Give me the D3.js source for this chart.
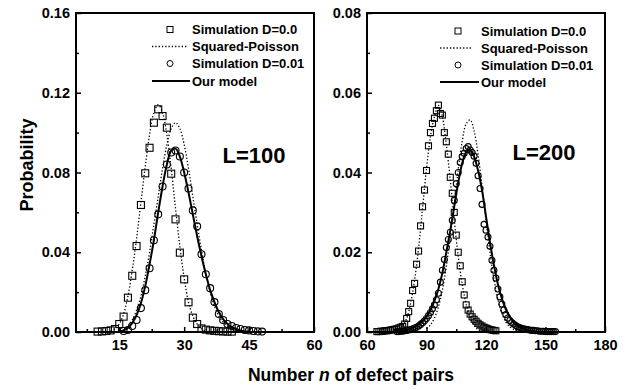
<!DOCTYPE html>
<html>
<head>
<meta charset="utf-8">
<script src="https://cdn.jsdelivr.net/npm/d3@7"></script>
<style>
    body { margin: 0; background: #fff; }
    svg { display: block; font-family: "Liberation Sans", Arial, sans-serif; font-weight: bold; }
</style>
</head>
<body>
<svg id="chart" width="629" height="390"></svg>
<script>
// ---- data: [n, probability] ----
// L = 100
const simD0_100 = [[10,0.0002],[11,0.0003],[12,0.0005],[13,0.0008],[14,0.0015],[15,0.004],[16,0.0077],[17,0.0172],[18,0.0282],[19,0.0431],[20,0.0637],[21,0.0796],[22,0.0924],[23,0.105],[24,0.1117],[25,0.1083],[26,0.1025],[27,0.0794],[28,0.0565],[29,0.0398],[30,0.0264],[31,0.0149],[32,0.0072],[33,0.004],[34,0.0018],[35,0.0012],[36,0.0008],[37,0.0006],[38,0.0004],[39,0.0003],[40,0.0002],[41,0.0002]];
const poissonD0_100 = [[13,0.0005],[14,0.0015],[15,0.004],[16,0.009],[17,0.018],[18,0.031],[19,0.047],[20,0.065],[21,0.083],[22,0.099],[23,0.110],[24,0.114],[25,0.110],[26,0.099],[27,0.082],[28,0.062],[29,0.043],[30,0.027],[31,0.015],[32,0.008],[33,0.004],[34,0.0015],[35,0.0005]];
const simD1_100 = [[16,0.0005],[17,0.001],[18,0.003],[19,0.006],[20,0.012],[21,0.021],[22,0.032],[23,0.046],[24,0.059],[25,0.073],[26,0.084],[27,0.090],[28,0.091],[29,0.088],[30,0.080],[31,0.072],[32,0.061],[33,0.053],[34,0.039],[35,0.029],[36,0.022],[37,0.015],[38,0.009],[39,0.006],[40,0.004],[41,0.003],[42,0.002],[43,0.0015],[44,0.001],[45,0.0008],[46,0.0005],[47,0.0003],[48,0.0002]];
const poissonD1_100 = [[16,0.001],[17,0.003],[18,0.006],[19,0.011],[20,0.018],[21,0.028],[22,0.040],[23,0.054],[24,0.068],[25,0.082],[26,0.094],[27,0.102],[28,0.105],[29,0.102],[30,0.094],[31,0.082],[32,0.068],[33,0.054],[34,0.041],[35,0.029],[36,0.020],[37,0.013],[38,0.008],[39,0.005],[40,0.003],[41,0.0015],[42,0.0008],[43,0.0003]];
const model_100 = [[15,0.0002],[16,0.0008],[17,0.002],[18,0.0045],[19,0.0085],[20,0.0145],[21,0.023],[22,0.034],[23,0.046],[24,0.060],[25,0.073],[26,0.084],[27,0.091],[28,0.092],[29,0.088],[30,0.080],[31,0.070],[32,0.059],[33,0.048],[34,0.038],[35,0.029],[36,0.021],[37,0.015],[38,0.010],[39,0.0065],[40,0.004],[41,0.0025],[42,0.0015],[43,0.0008],[44,0.0004],[45,0.0002]];

// L = 200
const simD0_200 = [[65,0.0001],[66,0.0001],[67,0.0002],[68,0.0002],[69,0.0003],[70,0.0003],[71,0.0004],[72,0.0005],[73,0.0006],[74,0.0007],[75,0.0008],[76,0.0010],[77,0.0012],[78,0.0014],[79,0.0020],[80,0.0034],[81,0.0051],[82,0.0072],[83,0.0104],[84,0.0122],[85,0.0170],[86,0.0203],[87,0.0266],[88,0.0314],[89,0.0356],[90,0.0405],[91,0.0467],[92,0.0500],[93,0.0523],[94,0.0536],[95,0.0555],[96,0.0569],[97,0.0548],[98,0.0544],[99,0.0500],[100,0.0477],[101,0.0446],[102,0.0388],[103,0.0348],[104,0.0300],[105,0.0243],[106,0.0200],[107,0.0166],[108,0.0126],[109,0.0093],[110,0.0068],[111,0.0055],[112,0.0045],[113,0.0038],[114,0.0032],[115,0.0027],[116,0.0022],[117,0.0018],[118,0.0015],[119,0.0012],[120,0.0010],[121,0.0008],[122,0.0006],[123,0.0005],[124,0.0004],[125,0.0003]];
const poissonD0_200 = [[72,0.0001],[74,0.0003],[76,0.0007],[78,0.0015],[80,0.0034],[82,0.0072],[84,0.013],[86,0.021],[88,0.031],[90,0.041],[92,0.049],[94,0.054],[96,0.0568],[98,0.054],[100,0.047],[102,0.038],[104,0.028],[106,0.019],[108,0.012],[110,0.007],[112,0.0036],[114,0.0016],[116,0.0006],[118,0.0002],[120,0.0001]];
const simD1_200 = [[75,0.0001],[76,0.0001],[77,0.0002],[78,0.0002],[79,0.0003],[80,0.0004],[81,0.0005],[82,0.0006],[83,0.0008],[84,0.0010],[85,0.0012],[86,0.0015],[87,0.0019],[88,0.0023],[89,0.0028],[90,0.0034],[91,0.0041],[92,0.0049],[93,0.0058],[94,0.0068],[95,0.0081],[96,0.0097],[97,0.0125],[98,0.0155],[99,0.0182],[100,0.0212],[101,0.0232],[102,0.0250],[103,0.0280],[104,0.0330],[105,0.0372],[106,0.0400],[107,0.0425],[108,0.0440],[109,0.0448],[110,0.0460],[111,0.0465],[112,0.0456],[113,0.0450],[114,0.0441],[115,0.0423],[116,0.0392],[117,0.0360],[118,0.0320],[119,0.0270],[120,0.0255],[121,0.0238],[122,0.0215],[123,0.0180],[124,0.0155],[125,0.0135],[126,0.0108],[127,0.0088],[128,0.0070],[129,0.0055],[130,0.0044],[131,0.0035],[132,0.0029],[133,0.0024],[134,0.0020],[135,0.0016],[136,0.0013],[137,0.0011],[138,0.0009],[139,0.0008],[140,0.0007],[141,0.0006],[142,0.0005],[143,0.0004],[144,0.0004],[145,0.0003],[146,0.0003],[147,0.0002],[148,0.0002],[149,0.0002],[150,0.0001],[151,0.0001],[152,0.0001],[153,0.0001],[154,0.0001],[155,0.0001]];
const poissonD1_200 = [[90,0.0009],[92,0.0018],[94,0.0035],[96,0.0063],[98,0.0105],[100,0.0165],[102,0.0239],[104,0.0323],[106,0.0407],[108,0.0478],[110,0.0522],[112,0.0532],[114,0.0504],[116,0.0445],[118,0.0366],[120,0.0280],[122,0.0200],[124,0.0133],[126,0.0082],[128,0.0047],[130,0.0025],[132,0.0013],[134,0.0006]];
const model_200 = [[78,0.0003],[82,0.0008],[86,0.0019],[88,0.0027],[90,0.0038],[92,0.0055],[94,0.0078],[96,0.0108],[98,0.0148],[100,0.0200],[102,0.0255],[104,0.0315],[106,0.0375],[108,0.0423],[110,0.0451],[112,0.0456],[114,0.0440],[116,0.0405],[118,0.0355],[120,0.0290],[122,0.0225],[124,0.0168],[126,0.0120],[128,0.0084],[130,0.0057],[132,0.0038],[134,0.0025],[136,0.0016],[138,0.0010],[142,0.0004],[148,0.0001]];

// axis ticks
const xTicks100 = [15, 30, 45, 60];
const xMinor100 = [7.5, 22.5, 37.5, 52.5];
const yTicks100 = [0, 0.04, 0.08, 0.12, 0.16];
const yMinor100 = [0.02, 0.06, 0.10, 0.14];
const xTicks200 = [60, 90, 120, 150, 180];
const xMinor200 = [75, 105, 135, 165];
const yTicks200 = [0, 0.02, 0.04, 0.06, 0.08];
const yMinor200 = [0.01, 0.03, 0.05, 0.07];

const legendLabels = ['Simulation D=0.0', 'Squared-Poisson', 'Simulation D=0.01', 'Our model'];

const svg = d3.select('#chart');

function drawPanel(cfg) {
    const x = d3.scaleLinear().domain(cfg.xDomain).range([cfg.left, cfg.right]);
    const y = d3.scaleLinear().domain(cfg.yDomain).range([cfg.bottom, cfg.top]);
    const g = svg.append('g');

    // axes, ticks pointing inward
    const xAxis = g.append('g')
        .attr('transform', `translate(0,${cfg.bottom})`)
        .call(d3.axisBottom(x).tickValues(cfg.xTicks).tickSizeInner(-5).tickSizeOuter(0).tickPadding(8).tickFormat(d3.format('d')));
    g.append('g')
        .attr('transform', `translate(0,${cfg.bottom})`)
        .call(d3.axisBottom(x).tickValues(cfg.xMinor).tickSizeInner(-3).tickSizeOuter(0).tickFormat(''));
    const yAxis = g.append('g')
        .attr('transform', `translate(${cfg.left},0)`)
        .call(d3.axisLeft(y).tickValues(cfg.yTicks).tickSizeInner(-5).tickSizeOuter(0).tickPadding(6).tickFormat(d3.format('.2f')));
    g.append('g')
        .attr('transform', `translate(${cfg.left},0)`)
        .call(d3.axisLeft(y).tickValues(cfg.yMinor).tickSizeInner(-3).tickSizeOuter(0).tickFormat(''));

    g.selectAll('.domain').remove();
    g.selectAll('.tick line').attr('stroke', '#000').attr('stroke-width', 1.5);
    g.selectAll('.tick text')
        .attr('fill', '#000')
        .style('font-size', '14.5px')
        .style('font-family', '"Liberation Sans", Arial, sans-serif')
        .style('font-weight', 'bold');

    // frame
    g.append('rect')
        .attr('x', cfg.left).attr('y', cfg.top)
        .attr('width', cfg.right - cfg.left).attr('height', cfg.bottom - cfg.top)
        .attr('fill', 'none').attr('stroke', '#000').attr('stroke-width', 2);

    const line = d3.line()
        .x(d => x(d[0]))
        .y(d => y(Math.max(0, d[1])))
        .curve(d3.curveCatmullRom.alpha(0.5));

    const plot = g.append('g');

    // squares (D=0.0)
    plot.selectAll('.sq')
        .data(cfg.squares)
        .enter()
        .append('rect')
        .attr('x', d => x(d[0]) - cfg.mk / 2)
        .attr('y', d => y(d[1]) - cfg.mk / 2)
        .attr('width', cfg.mk).attr('height', cfg.mk)
        .attr('fill', 'none').attr('stroke', '#000').attr('stroke-width', 1.1);

    // squared-Poisson dotted curves
    [cfg.poisson0, cfg.poisson1].forEach(s => {
        plot.append('path')
            .attr('d', line(s))
            .attr('fill', 'none').attr('stroke', '#000')
            .attr('stroke-width', 1.3).attr('stroke-dasharray', '1.3,2');
    });

    // circles (D=0.01)
    plot.selectAll('.ci')
        .data(cfg.circles)
        .enter()
        .append('circle')
        .attr('cx', d => x(d[0]))
        .attr('cy', d => y(d[1]))
        .attr('r', cfg.mk / 2)
        .attr('fill', 'none').attr('stroke', '#000').attr('stroke-width', 1.1);

    // model
    plot.append('path')
        .attr('d', line(cfg.model))
        .attr('fill', 'none').attr('stroke', '#000').attr('stroke-width', 2);

    // legend
    const lg = cfg.legend;
    const rows = lg.rows;
    g.append('rect')
        .attr('x', lg.symX - 3).attr('y', rows[0] - 3)
        .attr('width', 6).attr('height', 6)
        .attr('fill', 'none').attr('stroke', '#000').attr('stroke-width', 1);
    g.append('line')
        .attr('x1', lg.x1).attr('x2', lg.x2).attr('y1', rows[1]).attr('y2', rows[1])
        .attr('stroke', '#000').attr('stroke-width', 1.3).attr('stroke-dasharray', '1.3,2');
    g.append('circle')
        .attr('cx', lg.symX).attr('cy', rows[2]).attr('r', 3)
        .attr('fill', 'none').attr('stroke', '#000').attr('stroke-width', 1);
    g.append('line')
        .attr('x1', lg.x1).attr('x2', lg.x2s).attr('y1', rows[3]).attr('y2', rows[3])
        .attr('stroke', '#000').attr('stroke-width', 2);
    g.selectAll('.lgtext')
        .data(legendLabels)
        .enter()
        .append('text')
        .attr('x', lg.textX)
        .attr('y', (d, i) => rows[i])
        .attr('dy', '0.36em')
        .style('font-size', '13px')
        .text(d => d);

    // panel label
    g.append('text')
        .attr('x', cfg.labelX).attr('y', cfg.labelY)
        .attr('text-anchor', 'middle')
        .style('font-size', '22px')
        .text(cfg.label);
}

drawPanel({
    left: 76, right: 314, top: 13, bottom: 332,
    xDomain: [5, 60], yDomain: [0, 0.16],
    xTicks: xTicks100, xMinor: xMinor100, yTicks: yTicks100, yMinor: yMinor100,
    squares: simD0_100, poisson0: poissonD0_100, circles: simD1_100, poisson1: poissonD1_100, model: model_100,
    mk: 7,
    legend: { symX: 170, x1: 152, x2: 187, x2s: 190, textX: 192, rows: [29.5, 46.5, 63.5, 81] },
    label: 'L=100', labelX: 254, labelY: 163
});

drawPanel({
    left: 367, right: 605, top: 13, bottom: 332,
    xDomain: [60, 180], yDomain: [0, 0.08],
    xTicks: xTicks200, xMinor: xMinor200, yTicks: yTicks200, yMinor: yMinor200,
    squares: simD0_200, poisson0: poissonD0_200, circles: simD1_200, poisson1: poissonD1_200, model: model_200,
    mk: 6,
    legend: { symX: 458, x1: 440, x2: 472, x2s: 479, textX: 481, rows: [31, 48, 65, 82] },
    label: 'L=200', labelX: 544, labelY: 160
});

// axis titles
svg.append('text')
    .attr('transform', 'translate(33,165) rotate(-90)')
    .attr('text-anchor', 'middle')
    .style('font-size', '18px')
    .text('Probability');

const xTitle = svg.append('text')
    .attr('x', 351).attr('y', 381)
    .attr('text-anchor', 'middle')
    .style('font-size', '17.5px');
xTitle.append('tspan').text('Number ');
xTitle.append('tspan').style('font-style', 'italic').text('n');
xTitle.append('tspan').text(' of defect pairs');
</script>
</body>
</html>
